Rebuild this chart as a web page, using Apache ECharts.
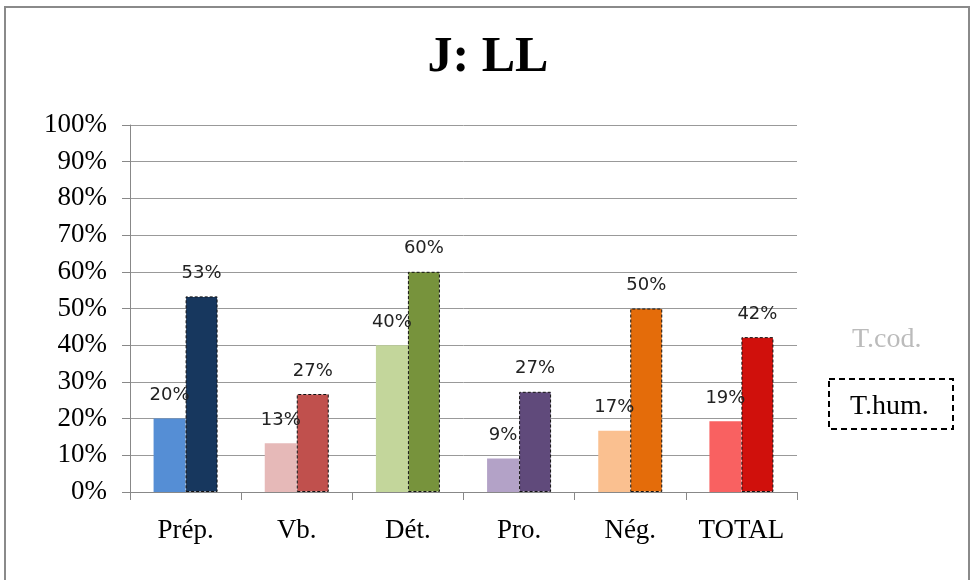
<!DOCTYPE html>
<html><head><meta charset="utf-8">
<script src="https://cdn.jsdelivr.net/npm/echarts@6/dist/echarts.min.js"></script>
<style>html,body{margin:0;padding:0;background:#fff}#c{width:976px;height:580px}</style>
</head><body><div id="c"></div>
<script>
const categories = ['Prép.', 'Vb.', 'Dét.', 'Pro.', 'Nég.', 'TOTAL'];
const tcodValues = [20, 13.3, 40, 9.1, 16.7, 19.3];
const thumValues = [53.3, 26.7, 60, 27.3, 50, 42.2];
const tcodColors = ['#558ED5', '#E6B9B8', '#C3D69B', '#B3A2C7', '#FAC090', '#F96161'];
const thumColors = ['#17375E', '#C0504D', '#77933C', '#604A7B', '#E46C0A', '#D0100C'];
const yTicks = [0, 10, 20, 30, 40, 50, 60, 70, 80, 90, 100];

const chart = echarts.init(document.getElementById('c'));
const labelStyle = {
  show: true, position: 'top', distance: 14,
  fontFamily: 'DejaVu Sans', fontSize: 18, color: '#222',
  formatter: p => Math.round(p.value) + '%'
};
chart.setOption({
  animation: false,
  backgroundColor: '#fff',
  title: {
    text: 'J: LL', left: 'center', top: 28,
    textStyle: { fontFamily: 'Liberation Serif', fontWeight: 'bold', fontSize: 50, color: '#000' }
  },
  grid: { left: 130, right: 179, top: 125, bottom: 88 },
  xAxis: {
    type: 'category', data: categories,
    axisLine: { lineStyle: { color: '#888', width: 1 } },
    axisTick: { show: true, alignWithLabel: false, length: 8, lineStyle: { color: '#888' } },
    axisLabel: { interval: 0, margin: 25, fontFamily: 'Liberation Serif', fontSize: 27, color: '#000' }
  },
  yAxis: {
    type: 'value', min: 0, max: 100, interval: 10,
    axisLine: { show: true, lineStyle: { color: '#888' } },
    axisTick: { show: true, length: 8, lineStyle: { color: '#888' } },
    splitLine: { lineStyle: { color: '#999' } },
    axisLabel: {
      margin: 23, fontFamily: 'Liberation Serif', fontSize: 27, color: '#000',
      formatter: v => yTicks.includes(v) ? v + '%' : ''
    }
  },
  series: [
    {
      name: 'T.cod.', type: 'bar', barWidth: 32, barGap: '0%',
      data: tcodValues.map((v, i) => ({ value: v, itemStyle: { color: tcodColors[i] } })),
      label: labelStyle
    },
    {
      name: 'T.hum.', type: 'bar', barWidth: 32,
      data: thumValues.map((v, i) => ({ value: v, itemStyle: { color: thumColors[i], borderColor: '#111', borderWidth: 1, borderType: [3, 2] } })),
      label: labelStyle
    }
  ],
  graphic: [
    { type: 'rect', shape: { x: 5, y: 7, width: 964, height: 580 }, style: { fill: 'none', stroke: '#8a8a8a', lineWidth: 2 }, silent: true },
    { type: 'text', x: 852, y: 340, style: { text: 'T.cod.', fontFamily: 'Liberation Serif', fontSize: 28, fill: '#bbb', verticalAlign: 'middle' } },
    { type: 'rect', shape: { x: 829, y: 379, width: 124, height: 50 }, style: { fill: 'none', stroke: '#000', lineWidth: 2, lineDash: [6, 4] } },
    { type: 'text', x: 850, y: 407, style: { text: 'T.hum.', fontFamily: 'Liberation Serif', fontSize: 28, fill: '#000', verticalAlign: 'middle' } }
  ]
});
</script></body></html>
